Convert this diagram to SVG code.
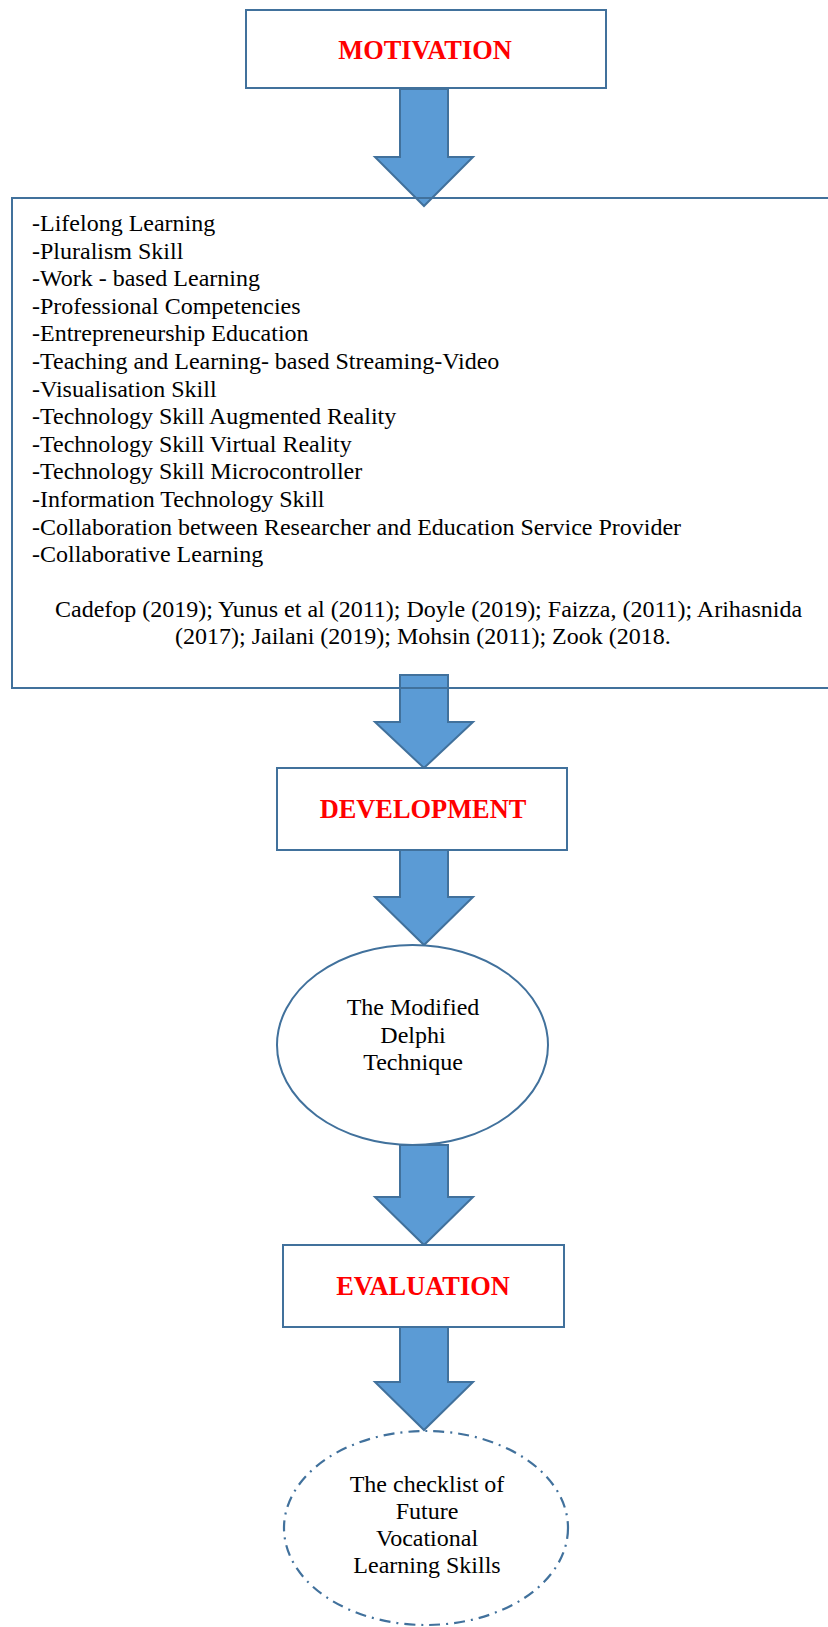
<svg xmlns="http://www.w3.org/2000/svg" width="828" height="1627" viewBox="0 0 828 1627">
<style>
.box{fill:none;stroke:#41719C;stroke-width:2}
.wbox{fill:#FFFFFF;stroke:#41719C;stroke-width:2}
.arrow{fill:#5B9BD5;stroke:#41719C;stroke-width:2;stroke-linejoin:miter}
.title{font-family:"Liberation Serif","Times New Roman",serif;font-weight:bold;font-size:26.4px;fill:#FF0000;text-anchor:middle}
.txt{font-family:"Liberation Serif","Times New Roman",serif;font-size:24px;fill:#000000}
.mid{text-anchor:middle}
</style>
<rect width="828" height="1627" fill="#FFFFFF"/>
<g id="connectors">
<polygon class="arrow" points="400,89 448,89 448,157 473,157 424,206 375,157 400,157"/>
<polygon class="arrow" points="400,675 448,675 448,722 473,722 424,768 375,722 400,722"/>
<polygon class="arrow" points="400,850 448,850 448,897 473,897 424,945 375,897 400,897"/>
<polygon class="arrow" points="400,1145 448,1145 448,1197 473,1197 424,1245 375,1197 400,1197"/>
<polygon class="arrow" points="400,1327 448,1327 448,1382 473,1382 424,1430 375,1382 400,1382"/>
</g>
<g id="motivation">
<rect class="box" x="246" y="10" width="360" height="78"/>
<text class="title" x="425" y="59">MOTIVATION</text>
</g>
<g id="skills">
<rect class="box" x="12" y="198" width="840" height="490"/>
<text class="txt" x="32" y="231">-Lifelong Learning</text>
<text class="txt" x="32" y="258.6">-Pluralism Skill</text>
<text class="txt" x="32" y="286.2">-Work - based Learning</text>
<text class="txt" x="32" y="313.8">-Professional Competencies</text>
<text class="txt" x="32" y="341.4">-Entrepreneurship Education</text>
<text class="txt" x="32" y="369">-Teaching and Learning- based Streaming-Video</text>
<text class="txt" x="32" y="396.6">-Visualisation Skill</text>
<text class="txt" x="32" y="424.2">-Technology Skill Augmented Reality</text>
<text class="txt" x="32" y="451.8">-Technology Skill Virtual Reality</text>
<text class="txt" x="32" y="479.4">-Technology Skill Microcontroller</text>
<text class="txt" x="32" y="507">-Information Technology Skill</text>
<text class="txt" x="32" y="534.6">-Collaboration between Researcher and Education Service Provider</text>
<text class="txt" x="32" y="562.2">-Collaborative Learning</text>
<text class="txt" x="55" y="617">Cadefop (2019); Yunus et al (2011); Doyle (2019); Faizza, (2011); Arihasnida</text>
<text class="txt" x="175" y="644">(2017); Jailani (2019); Mohsin (2011); Zook (2018.</text>
</g>
<g id="development">
<rect class="wbox" x="277" y="768" width="290" height="82"/>
<text class="title" x="423" y="818">DEVELOPMENT</text>
</g>
<g id="delphi">
<ellipse class="wbox" cx="412.5" cy="1045" rx="135.5" ry="100"/>
<text class="txt mid" x="413" y="1015">The Modified</text>
<text class="txt mid" x="413" y="1043">Delphi</text>
<text class="txt mid" x="413" y="1070">Technique</text>
</g>
<g id="evaluation">
<rect class="wbox" x="283" y="1245" width="281" height="82"/>
<text class="title" x="423" y="1295">EVALUATION</text>
</g>
<g id="checklist">
<ellipse cx="426" cy="1528" rx="142" ry="97" fill="none" stroke="#41719C" stroke-width="2.2" stroke-dasharray="11 6 2 6"/>
<text class="txt mid" x="427" y="1492">The checklist of</text>
<text class="txt mid" x="427" y="1519">Future</text>
<text class="txt mid" x="427" y="1546">Vocational</text>
<text class="txt mid" x="427" y="1573">Learning Skills</text>
</g>
</svg>
